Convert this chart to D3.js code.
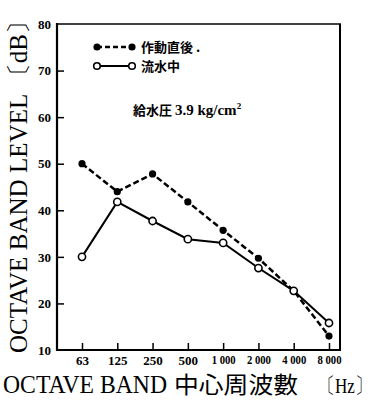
<!DOCTYPE html>
<html>
<head>
<meta charset="utf-8">
<script src="https://cdn.jsdelivr.net/npm/d3@7"></script>
<style>
  body { margin: 0; background: #fff; }
  svg { display: block; }
  .tick text { font-family: "Liberation Serif", serif; font-weight: bold; font-size: 13px; fill: #000; }
  .tick line { stroke: #000; stroke-width: 1.5; }
</style>
</head>
<body>
<div id="chart"></div>
<script>
// octave band centre frequencies (tick labels)
var bands = ["63", "125", "250", "500", "1 000", "2 000", "4 000", "8 000"];
// 作動直後 (just after operation) - filled, dashed
var afterStart = [50, 44, 47.8, 41.8, 35.7, 29.7, 22.7, 13];
// 流水中 (while water flows) - open, solid
var flowing = [30, 41.8, 37.7, 33.8, 33, 27.6, 22.7, 15.8];
var yTicks = [10, 20, 30, 40, 50, 60, 70, 80];

var svgWidth = 377, svgHeight = 400;
var plotLeft = 57, plotRight = 340, plotTop = 24, plotBottom = 350;

var svg = d3.select("#chart").append("svg")
	.attr("width", svgWidth)
	.attr("height", svgHeight);

var xScale = d3.scalePoint()
	.domain(bands)
	.range([82, 329]);

var yScale = d3.scaleLinear()
	.domain([10, 80])
	.range([plotBottom, plotTop]);

// axes with ticks pointing inward
var yAxis = d3.axisLeft(yScale)
	.tickValues(yTicks)
	.tickSize(-7)
	.tickPadding(6)
	.tickFormat(d3.format("d"));

var xAxis = d3.axisBottom(xScale)
	.tickSize(-7)
	.tickPadding(6);

var gy = svg.append("g")
	.attr("transform", "translate(" + plotLeft + ",0)")
	.call(yAxis);
gy.select(".domain").remove();
gy.selectAll(".tick").filter(function(d){ return d == 10 || d == 80; }).select("line").remove();

var gx = svg.append("g")
	.attr("transform", "translate(0," + plotBottom + ")")
	.call(xAxis);
gx.select(".domain").remove();
// the long labels are squeezed like the condensed print of the original
gx.selectAll(".tick text")
	.filter(function(d){ return d.length > 3; })
	.style("font-size", "11.5px")
	.attr("textLength", 24)
	.attr("lengthAdjust", "spacingAndGlyphs");

// frame
svg.append("line").attr("x1", plotLeft).attr("x2", plotLeft).attr("y1", plotTop - 1).attr("y2", plotBottom + 1)
	.attr("stroke", "#000").attr("stroke-width", 2.2);
svg.append("line").attr("x1", plotLeft).attr("x2", plotRight + 1).attr("y1", plotBottom).attr("y2", plotBottom)
	.attr("stroke", "#000").attr("stroke-width", 2.2);
svg.append("line").attr("x1", plotLeft).attr("x2", plotRight + 1).attr("y1", plotTop).attr("y2", plotTop)
	.attr("stroke", "#000").attr("stroke-width", 1.5);
svg.append("line").attr("x1", plotRight).attr("x2", plotRight).attr("y1", plotTop).attr("y2", plotBottom)
	.attr("stroke", "#000").attr("stroke-width", 2);

var line = d3.line()
	.x(function(d, i){ return xScale(bands[i]); })
	.y(function(d){ return yScale(d); });

svg.append("path")
	.datum(afterStart)
	.attr("d", line)
	.attr("fill", "none")
	.attr("stroke", "#000")
	.attr("stroke-width", 2.5)
	.attr("stroke-dasharray", "6,3");

svg.append("path")
	.datum(flowing)
	.attr("d", line)
	.attr("fill", "none")
	.attr("stroke", "#000")
	.attr("stroke-width", 2);

svg.selectAll("circle.filled")
	.data(afterStart)
	.enter()
	.append("circle")
	.attr("class", "filled")
	.attr("cx", function(d, i){ return xScale(bands[i]); })
	.attr("cy", function(d){ return yScale(d); })
	.attr("r", 3.6)
	.attr("fill", "#000");

svg.selectAll("circle.open")
	.data(flowing)
	.enter()
	.append("circle")
	.attr("class", "open")
	.attr("cx", function(d, i){ return xScale(bands[i]); })
	.attr("cy", function(d){ return yScale(d); })
	.attr("r", 3.6)
	.attr("fill", "#fff")
	.attr("stroke", "#000")
	.attr("stroke-width", 1.6);

// legend
var cjk = "'Noto Sans CJK JP', sans-serif";
var legend = svg.append("g");
legend.append("line").attr("x1", 97).attr("x2", 132).attr("y1", 47).attr("y2", 47)
	.attr("stroke", "#000").attr("stroke-width", 2.5).attr("stroke-dasharray", "5,3");
legend.append("circle").attr("cx", 97).attr("cy", 47).attr("r", 3.6).attr("fill", "#000");
legend.append("circle").attr("cx", 132).attr("cy", 47).attr("r", 3.6).attr("fill", "#000");
legend.append("text").attr("x", 141).attr("y", 52)
	.style("font-family", cjk).style("font-weight", "bold").style("font-size", "13px")
	.text("作動直後 .");

legend.append("line").attr("x1", 97).attr("x2", 132).attr("y1", 66).attr("y2", 66)
	.attr("stroke", "#000").attr("stroke-width", 2);
legend.append("circle").attr("cx", 97).attr("cy", 66).attr("r", 3.3)
	.attr("fill", "#fff").attr("stroke", "#000").attr("stroke-width", 1.6);
legend.append("circle").attr("cx", 132).attr("cy", 66).attr("r", 3.3)
	.attr("fill", "#fff").attr("stroke", "#000").attr("stroke-width", 1.6);
legend.append("text").attr("x", 141).attr("y", 71)
	.style("font-family", cjk).style("font-weight", "bold").style("font-size", "13px")
	.text("流水中");

// pressure note
var note = svg.append("text").attr("x", 133).attr("y", 115)
	.style("font-weight", "bold").style("font-size", "13px");
note.append("tspan").style("font-family", cjk).text("給水圧 ");
note.append("tspan").style("font-family", "'Liberation Serif', serif").style("font-size", "15px").text("3.9 kg/cm");
note.append("tspan").style("font-family", "'Liberation Serif', serif").style("font-size", "9px")
	.attr("dy", -6).text("2");

// y axis label
svg.append("text")
	.attr("transform", "translate(27,181) rotate(-90)")
	.style("text-anchor", "middle")
	.style("font-family", "'Liberation Serif', serif")
	.style("font-size", "25px")
	.attr("textLength", 344)
	.attr("lengthAdjust", "spacingAndGlyphs")
	.text("OCTAVE BAND LEVEL 〔dB〕");

// x axis label
svg.append("text")
	.attr("x", 3).attr("y", 393)
	.style("font-family", "'Liberation Serif', serif")
	.style("font-size", "26px")
	.attr("textLength", 164)
	.attr("lengthAdjust", "spacingAndGlyphs")
	.text("OCTAVE  BAND");
svg.append("text")
	.attr("x", 174).attr("y", 393)
	.style("font-family", cjk)
	.style("font-size", "23px")
	.attr("textLength", 124)
	.attr("lengthAdjust", "spacingAndGlyphs")
	.text("中心周波數");
svg.append("text")
	.attr("x", 318).attr("y", 393)
	.style("font-family", "'Liberation Serif', serif")
	.style("font-size", "22px")
	.attr("textLength", 54)
	.attr("lengthAdjust", "spacingAndGlyphs")
	.text("〔Hz〕");
</script>
</body>
</html>
